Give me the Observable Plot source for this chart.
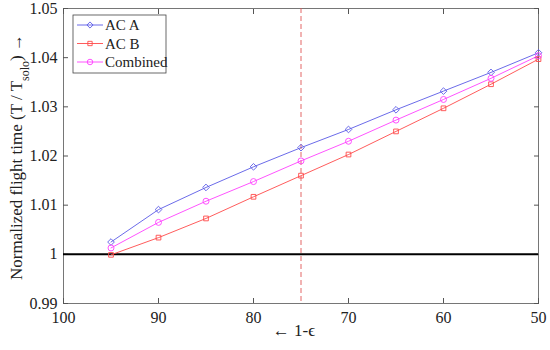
<!DOCTYPE html>
<html>
<head>
<meta charset="utf-8">
<script src="https://cdn.jsdelivr.net/npm/d3@7"></script>
<script src="https://cdn.jsdelivr.net/npm/@observablehq/plot@0.6"></script>
<style>
  body { margin: 0; background: #fff; }
  #chart { position: relative; width: 550px; height: 350px; }
</style>
</head>
<body>
<div id="chart"></div>
<script>
const xValues = [95, 90, 85, 80, 75, 70, 65, 60, 55, 50];
const acA = [1.0025, 1.0091, 1.0136, 1.0178, 1.0217, 1.0254, 1.0294, 1.0332, 1.0370, 1.0410];
const acB = [0.9999, 1.0034, 1.0073, 1.0117, 1.0160, 1.0203, 1.0250, 1.0297, 1.0346, 1.0397];
const combined = [1.0013, 1.0065, 1.0108, 1.0148, 1.0190, 1.0230, 1.0273, 1.0315, 1.0358, 1.0404];
const seriesNames = ["AC A", "AC B", "Combined"];
const seriesColors = ["#5a5ae6", "#ff4a4a", "#ff40ff"];
const seriesSymbols = ["diamond2", "square2", "circle"];
const xTicks = [100, 90, 80, 70, 60, 50];
const yTicks = [0.99, 1.00, 1.01, 1.02, 1.03, 1.04, 1.05];
const markerX = 75;
const baselineY = 1;

const FONT = "'Liberation Serif', 'Times New Roman', serif";

const allSeries = [acA, acB, combined];
const data = [];
allSeries.forEach((vals, i) => vals.forEach((v, j) => data.push({series: seriesNames[i], x: xValues[j], y: v})));

const yFmt = d => d === 1 ? "1" : d3.format(".2f")(d);

const plot = Plot.plot({
  width: 550,
  height: 350,
  marginLeft: 63,
  marginRight: 12,
  marginTop: 8,
  marginBottom: 47,
  x: {domain: [100, 50]},
  y: {domain: [0.99, 1.05]},
  marks: [
    Plot.frame({stroke: "#555", strokeWidth: 0.8}),
    Plot.axisX({ticks: xTicks, tickSize: -5, tickPadding: 13, tickFormat: d => String(d), label: null, fontSize: 16, stroke: "#555", fill: "#222"}),
    Plot.axisX({anchor: "top", ticks: xTicks, tickSize: -5, tickFormat: () => "", label: null, stroke: "#555"}),
    Plot.axisY({ticks: yTicks, tickSize: -5, tickPadding: 11, tickFormat: yFmt, label: null, fontSize: 16, stroke: "#555", fill: "#222"}),
    Plot.axisY({anchor: "right", ticks: yTicks, tickSize: -5, tickFormat: () => "", label: null, stroke: "#555"}),
    Plot.ruleX([markerX], {stroke: "#e05555", strokeDasharray: "5,3", strokeWidth: 0.9}),
    Plot.ruleY([baselineY], {stroke: "#000", strokeWidth: 2}),
    Plot.line(data, {x: "x", y: "y", z: "series", stroke: "series", strokeWidth: 0.9}),
    Plot.dot(data, {x: "x", y: "y", stroke: "series", symbol: "series", r: 3, strokeWidth: 0.9, fill: "none"})
  ],
  color: {domain: seriesNames, range: seriesColors},
  symbol: {domain: seriesNames, range: seriesSymbols}
});

document.getElementById("chart").appendChild(plot);

const svg = d3.select(plot);
svg.attr("font-family", FONT);
svg.append("text")
  .attr("x", 294).attr("y", 336)
  .attr("text-anchor", "middle")
  .attr("font-size", 17)
  .attr("fill", "#222")
  .text("← 1-ϵ");
const yl = svg.append("text")
  .attr("transform", "translate(22,157) rotate(-90)")
  .attr("text-anchor", "middle")
  .attr("font-size", 17)
  .attr("fill", "#222");
yl.append("tspan").text("Normalized flight time (T / T");
yl.append("tspan").attr("baseline-shift", "sub").attr("font-size", 12).text("solo");
yl.append("tspan").text(") →");

const lg = svg.append("g").attr("transform", "translate(73,15)");
lg.append("rect").attr("width", 93).attr("height", 58).attr("fill", "#fff").attr("stroke", "#444").attr("stroke-width", 0.8);
const symGen = {"diamond2": d3.symbolDiamond2, "square2": d3.symbolSquare2, "circle": d3.symbolCircle};
seriesNames.forEach((name, i) => {
  const yy = 10 + i * 18.5;
  lg.append("line").attr("x1", 4).attr("x2", 30).attr("y1", yy).attr("y2", yy)
    .attr("stroke", seriesColors[i]).attr("stroke-width", 0.9);
  lg.append("path").attr("d", d3.symbol(symGen[seriesSymbols[i]], 24)())
    .attr("transform", `translate(17,${yy})`).attr("fill", "none").attr("stroke", seriesColors[i]).attr("stroke-width", 0.9);
  lg.append("text").attr("x", 32).attr("y", yy + 5).attr("text-anchor", "start")
    .attr("font-size", 15).attr("fill", "#222").text(name);
});
svg.selectAll("text").attr("font-family", FONT).style("font-family", FONT);
</script>
</body>
</html>
